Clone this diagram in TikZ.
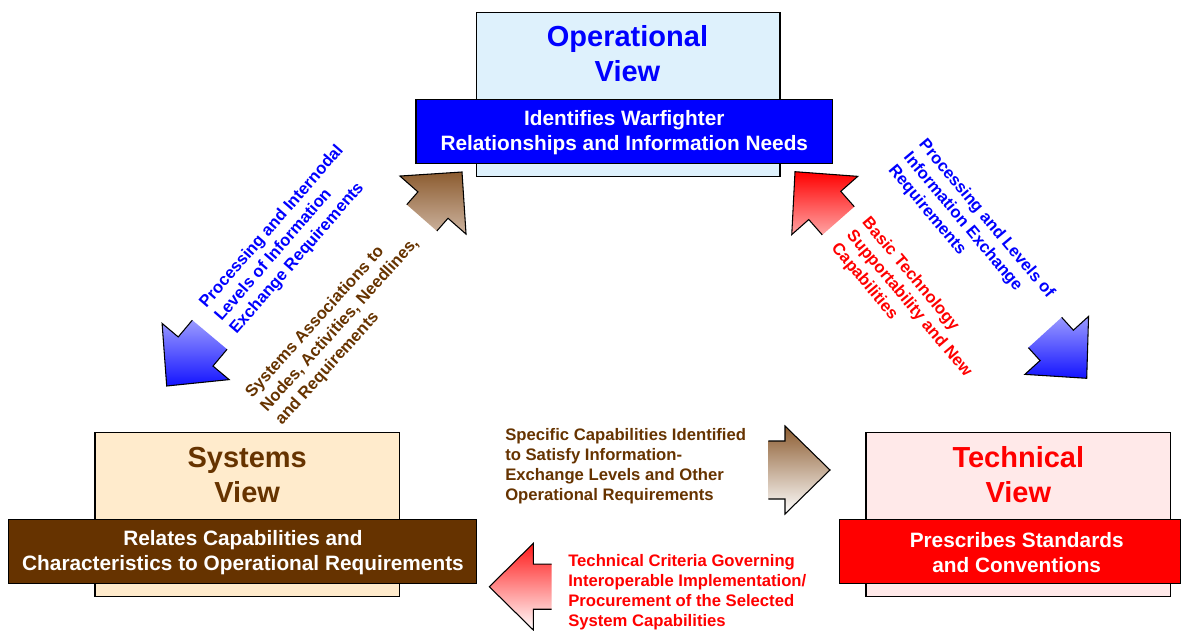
\documentclass[tikz,border=0pt]{standalone}
\usepackage{fontspec}
\setmainfont{Liberation Sans}
\usetikzlibrary{calc}
\definecolor{opblue}{RGB}{0,0,255}
\definecolor{opfill}{RGB}{222,241,252}
\definecolor{sysbrown}{RGB}{102,51,0}
\definecolor{sysfill}{RGB}{255,235,204}
\definecolor{tecred}{RGB}{255,0,0}
\definecolor{tecfill}{RGB}{255,233,233}
\definecolor{brtop}{RGB}{140,92,48}
\definecolor{brbot}{RGB}{205,180,160}
\definecolor{bltop}{RGB}{155,155,255}
\definecolor{blbot}{RGB}{20,20,255}
\definecolor{rdbot}{RGB}{255,165,165}

\tikzset{
  viewbox/.style={draw=black, line width=0.9pt, inner sep=0pt, minimum height=123pt},
  banner/.style={draw=black, line width=0.9pt, inner sep=0pt, minimum height=48pt},
  titletext/.style={font=\fontsize{21.75}{26.25}\selectfont\bfseries, align=center, inner sep=0pt},
  bannertext/.style={font=\fontsize{15.6}{18.75}\selectfont\bfseries, text=white, align=center, inner sep=0pt},
  labeltext/.style={font=\fontsize{12.5}{15}\selectfont\bfseries, align=left, inner sep=0pt},
  arrowline/.style={draw=black, line width=0.8pt, line join=miter},
}

% #1 tip, #2 tail centre, #3 head length, #4 head half width, #5 shaft half width, #6 shading
\newcommand\blockarr[6]{%
  \coordinate (bt) at #1;
  \coordinate (bs) at #2;
  \coordinate (bh) at ($(bt)!#3!(bs)$);
  \coordinate (b1) at ($(bh)!#4!90:(bt)$);
  \coordinate (b2) at ($(bh)!#4!-90:(bt)$);
  \coordinate (i1) at ($(bh)!#5!90:(bt)$);
  \coordinate (i2) at ($(bh)!#5!-90:(bt)$);
  \coordinate (s1) at ($(bs)!#5!90:(bt)$);
  \coordinate (s2) at ($(bs)!#5!-90:(bt)$);
  \shade[#6] (s1) -- (i1) -- (b1) -- (bt) -- (b2) -- (i2) -- (s2) -- cycle;
  \draw[arrowline] (s1) -- (i1) -- (b1) -- (bt) -- (b2) -- (i2) -- (s2);
}

\begin{document}
\begin{tikzpicture}[x=0.75pt, y=-0.75pt]
\useasboundingbox (0,0) rectangle (1181,631);

% ---- block arrows ----
\blockarr{(462,172)}{(421.8,217.8)}{33pt}{33pt}{15pt}{top color=brtop, bottom color=brbot}
\blockarr{(166.7,386)}{(209.7,334.7)}{33.75pt}{32.8pt}{17pt}{top color=bltop, bottom color=blbot}
\blockarr{(795,171.7)}{(838.3,220.8)}{33.75pt}{33pt}{16pt}{top color=tecred, bottom color=rdbot}
\blockarr{(1086.7,378.3)}{(1045,332.5)}{33.4pt}{32.3pt}{16.9pt}{top color=bltop, bottom color=blbot}
\blockarr{(830,470)}{(768.3,470)}{33.75pt}{33pt}{21.75pt}{top color=brtop, bottom color=white}
\blockarr{(489.3,586.7)}{(551.7,586.7)}{33pt}{32.5pt}{16.9pt}{top color=tecred!90, bottom color=white}

% ---- Operational view ----
\node[viewbox, fill=opfill, minimum width=227.5pt] (opbox) at (628.3,94.7) {};
\node[titletext, text=opblue] (optitle) at (627.5,54) {Operational\\View};
\node[banner, fill=opblue, minimum width=312.5pt] (opban) at (624.3,131.3) {};
\node[bannertext] (optext) at (624.3,132.5) {Identifies Warfighter\\Relationships and Information Needs};

% ---- Systems view ----
\node[viewbox, fill=sysfill, minimum width=228.2pt] (sysbox) at (247.2,514.7) {};
\node[titletext, text=sysbrown] (systitle) at (247.2,475) {Systems\\View};
\node[banner, fill=sysbrown, minimum width=351.3pt] (sysban) at (242.5,551.3) {};
\node[bannertext] (systext) at (243,552.5) {Relates Capabilities and\\Characteristics to Operational Requirements};

% ---- Technical view ----
\node[viewbox, fill=tecfill, minimum width=228.5pt] (tecbox) at (1018.3,514.7) {};
\node[titletext, text=tecred] (tectitle) at (1018.3,475) {Technical\\View};
\node[banner, fill=tecred, minimum width=255.9pt] (tecban) at (1009.9,551.3) {};
\node[bannertext] (tectext) at (1016.7,552.5) {Prescribes Standards\\and Conventions};

% ---- labels ----
\node[labeltext, text=opblue, rotate=49] (lblA) at (287,240) {Processing and Internodal\\Levels of Information\\Exchange Requirements};
\node[labeltext, text=sysbrown, rotate=48] (lblB) at (340,325) {Systems Associations to\\Nodes, Activities, Needlines,\\and Requirements};
\node[labeltext, text=opblue, rotate=-50] (lblC) at (971,232) {Processing and Levels of\\Information Exchange\\Requirements};
\node[labeltext, text=tecred, rotate=-50] (lblD) at (909,304) {Basic Technology\\Supportability and New\\Capabilities};
\node[labeltext, text=sysbrown, anchor=west] (lblE) at (505,466) {Specific Capabilities Identified\\to Satisfy Information-\\Exchange Levels and Other\\Operational Requirements};
\node[labeltext, text=tecred, anchor=west] (lblF) at (568,592) {Technical Criteria Governing\\Interoperable Implementation/\\Procurement of the Selected\\System Capabilities};
\end{tikzpicture}
\end{document}
